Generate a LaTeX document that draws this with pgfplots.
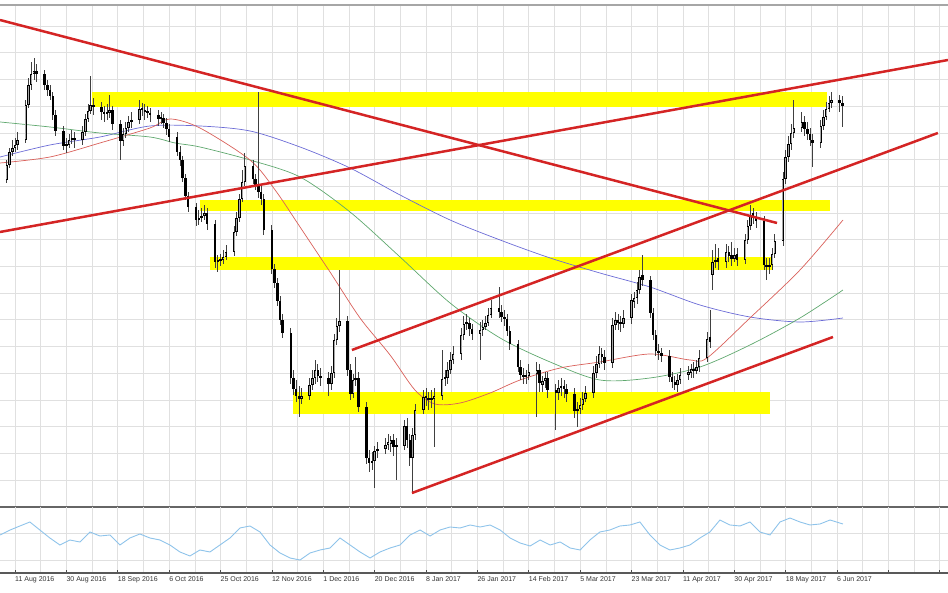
\documentclass[border=0pt]{standalone}
\usepackage{pgfplots}
\pgfplotsset{compat=1.18}
\usepackage{pgfplotstable}
\usepackage{fontspec}
\setmainfont{Liberation Sans}

\definecolor{band}{HTML}{FFFF00}
\definecolor{trend}{HTML}{D42424}
\definecolor{maBlue}{HTML}{6B6BD6}
\definecolor{maGreen}{HTML}{5FA86E}
\definecolor{maRed}{HTML}{D9605A}
\definecolor{osc}{HTML}{8EC3EA}
\definecolor{gridc}{HTML}{E0E0E0}

% values are read as distance from the top of the picture (px);
% the axes plot them as 593 - value
% daily candles, x = days since 11 Aug 2016
\pgfplotstableread{
d o h l c
-6 172 168 185 180
-3 180 160 183 165
-2 165 148 168 152
-1 152 140 156 148
0 148 138 152 145
1 145 132 150 140
4 140 100 143 105
5 105 78 108 85
6 85 62 90 74
7 74 58 80 71
8 71 64 82 74
11 74 70 90 85
12 85 80 96 90
13 90 85 100 96
14 96 92 120 115
15 115 110 136 131
18 131 126 150 146
19 146 138 153 145
20 145 134 148 140
21 140 130 144 138
22 138 132 148 140
25 140 126 145 132
26 132 114 136 119
27 119 104 122 111
28 111 76 114 105
29 105 98 115 107
32 107 102 120 112
33 112 106 122 114
34 114 104 120 113
35 113 95 118 110
36 110 106 130 124
39 124 120 160 141
40 141 128 146 134
41 134 122 138 128
42 128 116 132 122
43 122 112 128 120
46 120 100 124 109
47 109 103 116 110
48 110 104 120 112
49 112 106 118 113
50 113 108 122 115
53 115 110 126 119
54 119 112 124 118
55 118 114 128 123
56 123 118 135 129
57 129 124 142 137
60 137 132 156 152
61 152 146 166 160
62 160 156 182 178
63 178 174 200 196
64 196 192 212 207
67 207 203 226 220
68 220 210 225 218
69 218 208 222 216
70 216 205 220 213
71 213 208 230 224
74 224 220 268 262
75 262 255 272 261
76 261 254 266 260
77 260 250 264 257
78 257 245 260 252
81 252 226 256 232
82 232 212 236 218
83 218 194 222 199
84 199 170 202 182
85 182 153 186 166
88 166 160 184 179
89 179 174 190 186
90 186 92 198 192
91 192 186 205 199
92 199 194 235 230
95 230 225 274 269
96 269 264 288 283
97 283 278 306 301
98 301 296 325 320
99 320 314 338 333
102 333 328 384 378
103 378 370 395 389
104 389 380 402 396
105 396 386 417 399
106 399 388 404 396
109 396 378 400 385
110 385 370 390 378
111 378 360 384 370
112 370 364 382 376
113 376 368 386 378
116 378 372 396 384
117 384 366 390 373
118 373 334 378 340
119 340 318 345 326
120 326 270 332 321
123 321 316 376 370
124 370 364 400 394
125 394 374 398 380
126 380 357 386 378
127 378 372 412 407
130 407 402 464 458
131 458 450 472 463
132 463 452 470 461
133 461 446 488 451
134 451 442 458 449
137 449 438 454 445
138 445 434 450 442
139 444 436 452 440
140 440 434 456 447
141 447 438 480 446
144 446 420 450 426
145 426 418 448 440
146 440 434 466 458
147 458 428 493 435
148 435 404 440 410
151 410 390 414 397
152 397 388 406 398
153 398 392 410 400
154 400 390 408 399
155 399 388 447 396
158 396 350 400 379
159 379 370 386 378
160 378 362 384 370
161 370 352 374 360
162 360 346 364 354
165 354 328 360 335
166 335 316 340 324
167 324 314 330 323
168 323 318 336 329
169 329 324 340 334
172 334 322 360 330
173 330 320 336 327
174 327 316 330 323
175 323 308 326 315
176 315 300 318 308
179 308 287 318 312
180 312 305 322 317
181 317 310 326 319
182 319 314 336 331
183 331 326 350 344
186 344 340 372 367
187 367 360 380 375
188 375 368 384 377
189 377 370 384 376
190 376 364 380 372
193 374 362 417 370
194 370 364 392 383
195 385 376 392 381
196 381 372 388 378
197 378 372 398 390
200 390 384 430 393
201 393 380 400 388
202 388 378 396 386
203 386 380 398 389
204 389 384 402 394
207 394 388 418 411
208 411 402 427 409
209 409 398 414 405
210 405 392 410 399
211 399 386 402 393
214 393 366 398 373
215 373 356 378 364
216 364 346 368 354
217 354 348 364 357
218 357 350 370 363
221 363 318 368 325
222 325 312 330 320
223 320 314 330 323
224 323 316 332 324
225 324 310 328 318
228 318 294 324 300
229 302 292 308 298
230 298 282 304 290
231 290 270 294 277
232 275 255 286 280
235 280 276 318 313
236 313 308 340 335
237 335 330 356 351
238 351 344 360 353
239 353 348 362 356
242 356 350 382 377
243 377 372 388 382
244 382 376 390 385
245 385 374 392 380
246 380 368 384 375
249 375 366 380 372
250 373 364 378 369
251 369 362 378 371
252 371 360 374 367
253 367 350 372 358
256 358 332 362 339
257 337 310 348 342
258 275 250 290 262
259 262 244 268 260
260 258 248 270 262
263 262 244 268 252
264 252 246 262 256
265 255 242 266 259
266 259 248 262 255
267 254 248 266 260
270 260 234 264 240
271 240 220 244 226
272 226 205 230 215
273 213 208 224 218
274 218 212 228 221
277 221 216 270 265
278 265 258 280 267
279 267 258 274 265
280 265 248 270 254
281 254 234 258 241
284 241 172 246 179
285 179 150 184 157
286 157 136 162 144
287 144 124 150 133
288 133 100 138 128
291 128 112 132 122
292 122 116 136 129
293 129 122 140 134
294 134 128 146 140
295 140 134 167 143
298 143 120 148 126
299 126 110 130 117
300 117 102 120 109
301 109 96 112 103
302 103 92 108 100
305 100 95 112 103
306 103 96 127 106
}\candles

\pgfplotstableread{
d y
-5.5 157
12.9 145
31.4 137
49.9 126
68.4 126
86.9 131
105.4 147
123.9 168
142.4 195
160.9 220
179.4 240
197.9 258
216.3 273
234.8 287
253.3 305
271.8 317
290.3 322
306.2 318
}\maslow

\pgfplotstableread{
d y
-5.5 122
12.9 127
31.4 133
49.9 137
59.2 143
68.4 147
86.9 160
105.4 177
123.9 212
142.4 257
160.9 303
179.4 338
197.9 362
216.3 380
234.8 378
253.3 367
271.8 345
290.3 318
306.2 290
}\mamid

\pgfplotstableread{
d y
-5.5 163
12.9 157
31.4 143
49.9 128
57.3 119
68.4 128
86.9 160
96.2 190
105.4 227
116.5 272
127.6 318
138.7 355
147.9 390
155.3 404
164.6 403
175.7 393
186.8 380
201.6 368
216.3 362
234.8 354
249.6 360
255.9 358
271.8 318
290.3 270
306.2 220
}\mafast

\pgfplotstableread{
d y
-5.5 535
-1.8 530
1.8 526
5.5 522
9.2 530
12.9 538
16.6 545
20.3 540
24.0 542
27.7 532
31.4 536
35.1 535
38.8 545
42.5 538
46.2 534
49.9 538
53.6 540
57.3 545
61.0 552
64.7 556
68.4 550
72.1 552
75.8 545
79.5 538
83.2 528
86.9 526
90.6 532
94.3 545
98.0 553
101.7 558
105.4 560
109.1 553
112.8 550
116.5 548
120.2 538
123.9 545
127.6 552
131.3 558
135.0 552
138.7 548
142.4 545
146.1 535
149.8 530
153.5 536
157.2 530
160.9 527
164.6 528
168.3 525
172.0 527
175.7 525
179.4 530
183.1 538
186.8 543
190.5 546
194.2 540
197.9 545
201.6 542
205.3 548
209.0 550
212.6 540
216.3 532
220.0 530
223.7 526
227.4 525
231.1 522
234.8 535
238.5 545
242.2 550
245.9 548
249.6 545
253.3 538
257.0 532
260.7 520
264.4 525
268.1 526
271.8 522
275.5 532
279.2 535
282.9 522
286.6 518
290.3 522
294.0 525
297.7 524
301.4 520
306.2 524
}\oscil

\begin{document}
\begin{tikzpicture}
\useasboundingbox (0,0) rectangle (948pt,593pt);

\begin{axis}[
    at={(0pt,86pt)}, anchor=south west,
    width=948pt, height=502pt, scale only axis,
    xmin=-5.548, xmax=345.04,
    ymin=86, ymax=588,
    axis line style={draw=none},
    xtick={0,19,...,342}, minor xtick={9.5,28.5,...,333},
    ytick={113,139.7,...,568},
    xticklabels={}, yticklabels={},
    major tick length=0pt, minor tick length=0pt,
    grid=both,
    major grid style={gridc, line width=0.6pt},
    minor grid style={gridc, line width=0.6pt},
    clip=false,
]
% support / resistance bands
\addplot[band, line width=15pt] coordinates {(28.5,493.5) (300.3,493.5)};
\addplot[band, line width=11pt] coordinates {(68.4,387) (301.4,387)};
\addplot[band, line width=13pt] coordinates {(72.1,329.5) (280,329.5)};
\addplot[band, line width=22pt] coordinates {(102.8,190) (279.2,190)};

% moving averages
\addplot[maBlue, line width=0.7pt, smooth] table[x=d, y expr={593-\thisrow{y}}] {\maslow};
\addplot[maGreen, line width=0.7pt, smooth] table[x=d, y expr={593-\thisrow{y}}] {\mamid};
\addplot[maRed, line width=0.7pt, smooth] table[x=d, y expr={593-\thisrow{y}}] {\mafast};

% candles: wicks, bodies, lighter up-bodies
\addplot[draw=none, mark=none, error bars/.cd, y dir=plus, y explicit,
    error mark=none, error bar style={draw=black!75, line width=0.8pt}]
    table[x=d, y expr={593-\thisrow{l}},
          y error plus expr={\thisrow{l}-\thisrow{h}}] {\candles};
\addplot[draw=none, mark=none, error bars/.cd, y dir=plus, y explicit,
    error mark=none, error bar style={draw=black, line width=2.5pt}]
    table[x=d, y expr={593-max(\thisrow{o},\thisrow{c})},
          y error plus expr={max(abs(\thisrow{o}-\thisrow{c}),1.5)}] {\candles};
\addplot[draw=none, mark=none,
    restrict expr to domain={\thisrow{o}-\thisrow{c}}{2.5:1000},
    error bars/.cd, y dir=plus, y explicit,
    error mark=none, error bar style={draw=black!35, line width=1pt}]
    table[x=d, y expr={593.7-\thisrow{o}},
          y error plus expr={\thisrow{o}-\thisrow{c}-1.4}] {\candles};

% trend lines
\addplot[trend, line width=2.5pt] coordinates {(-5.548,573) (281.8,370)};
\addplot[trend, line width=2.5pt] coordinates {(-5.548,361) (345.04,533)};
\addplot[trend, line width=2.5pt] coordinates {(124.6,243) (341.3,460)};
\addplot[trend, line width=2.5pt] coordinates {(146.8,100) (302.5,256)};

\draw[black!35, line width=1.8pt] (axis cs:-5.548,588) -- (axis cs:345.04,588);
\draw[black!60, line width=2.6pt] (axis cs:-5.548,86) -- (axis cs:345.04,86);
\end{axis}

\begin{axis}[
    at={(0pt,20pt)}, anchor=south west,
    width=948pt, height=66pt, scale only axis,
    xmin=-5.548, xmax=345.04,
    ymin=20, ymax=86,
    axis line style={draw=none},
    xtick={0,19,...,342}, minor xtick={9.5,28.5,...,333},
    xticklabels={11 Aug 2016, 30 Aug 2016, 18 Sep 2016, 6 Oct 2016,
      25 Oct 2016, 12 Nov 2016, 1 Dec 2016, 20 Dec 2016, 8 Jan 2017,
      26 Jan 2017, 14 Feb 2017, 5 Mar 2017, 23 Mar 2017, 11 Apr 2017,
      30 Apr 2017, 18 May 2017, 6 Jun 2017, {}, {}},
    ytick={32.9,59.6}, yticklabels={},
    xtick pos=lower, xticklabel pos=lower,
    ytick style={draw=none},
    tick align=inside,
    major tick length=3pt, minor tick length=0pt,
    xtick style={black!70, line width=0.6pt},
    xticklabel style={anchor=north west, font=\fontsize{7}{8}\selectfont,
      text=black!80, inner sep=1pt, xshift=-1pt, yshift=-2pt},
    grid=both,
    major grid style={gridc, line width=0.6pt},
    minor grid style={gridc, line width=0.6pt},
    clip=false,
]
\addplot[osc, line width=0.9pt] table[x=d, y expr={593-\thisrow{y}}] {\oscil};
\draw[black!65, line width=1.8pt] (axis cs:-5.548,20) -- (axis cs:345.04,20);
\end{axis}
\end{tikzpicture}
\end{document}
